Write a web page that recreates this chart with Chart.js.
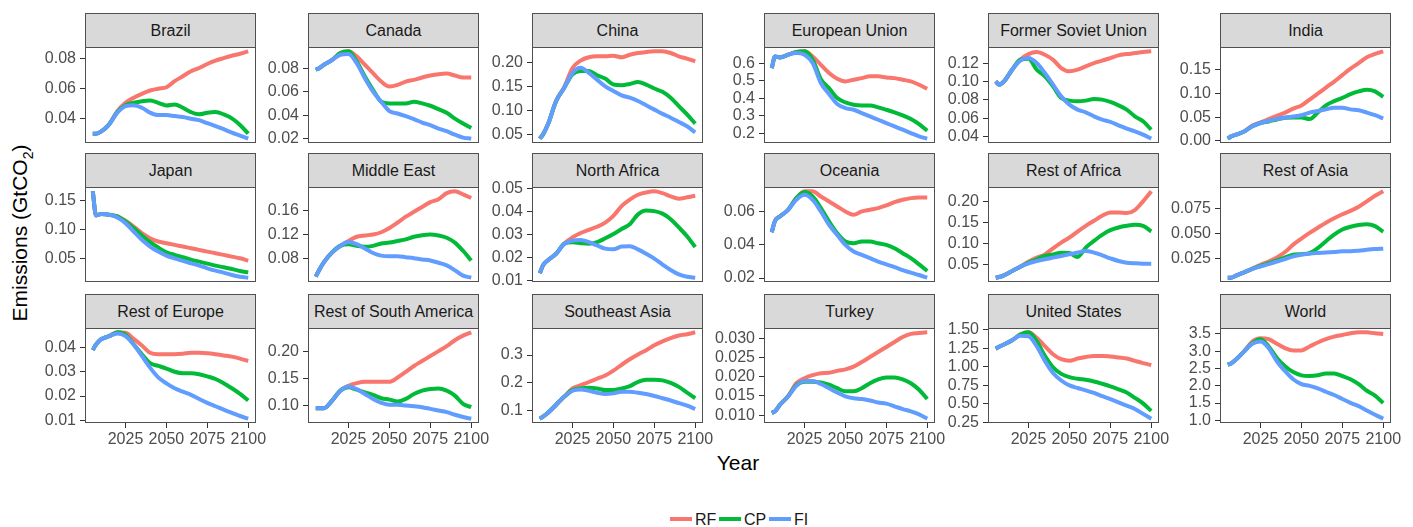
<!DOCTYPE html>
<html>
<head>
<meta charset="utf-8">
<script src="https://cdn.jsdelivr.net/npm/chart.js@4.4.1/dist/chart.umd.min.js"></script>
<style>
    body { margin: 0; width: 1413px; height: 527px; background: #fff; position: relative; overflow: hidden;
           font-family: 'Liberation Sans', Arial, sans-serif; }
    canvas { position: absolute; }
    .strip { position: absolute; box-sizing: border-box; background: #d9d9d9; border: 1px solid #505050;
             color: #1a1a1a; font-size: 16px; text-align: center; line-height: 33px; white-space: nowrap; overflow: hidden; }
    .title { position: absolute; font-size: 21px; color: #000; white-space: nowrap; }
    .key { position: absolute; height: 4px; width: 22px; }
    .keytext { position: absolute; font-size: 16px; line-height: 16px; color: #1a1a1a; }
</style>
</head>
<body>
<div class="title" style="left:22px; top:233px; transform: translate(-50%, -50%) rotate(-90deg);">Emissions (GtCO<sub style="font-size:14px">2</sub>)</div>
<div class="title" style="left:738px; top:463px; transform: translate(-50%, -50%);">Year</div>
<div id="legend"></div>
<script>
// facet names, in reading order
const regions = ['Brazil', 'Canada', 'China', 'European Union', 'Former Soviet Union', 'India',
                 'Japan', 'Middle East', 'North Africa', 'Oceania', 'Rest of Africa', 'Rest of Asia',
                 'Rest of Europe', 'Rest of South America', 'Southeast Asia', 'Turkey', 'United States', 'World'];

const years = [2005, 2007, 2010, 2015, 2020, 2025, 2030, 2035, 2040, 2045, 2050,
               2055, 2060, 2065, 2070, 2075, 2080, 2085, 2090, 2095, 2100];

const xTickLabels = ['2025', '2050', '2075', '2100'];

const yTickLabels = [
    ['0.04', '0.06', '0.08'],
    ['0.02', '0.04', '0.06', '0.08'],
    ['0.05', '0.10', '0.15', '0.20'],
    ['0.2', '0.3', '0.4', '0.5', '0.6'],
    ['0.04', '0.06', '0.08', '0.10', '0.12'],
    ['0.00', '0.05', '0.10', '0.15'],
    ['0.05', '0.10', '0.15'],
    ['0.08', '0.12', '0.16'],
    ['0.01', '0.02', '0.03', '0.04', '0.05'],
    ['0.02', '0.04', '0.06'],
    ['0.05', '0.10', '0.15', '0.20'],
    ['0.025', '0.050', '0.075'],
    ['0.01', '0.02', '0.03', '0.04'],
    ['0.10', '0.15', '0.20'],
    ['0.1', '0.2', '0.3'],
    ['0.010', '0.015', '0.020', '0.025', '0.030'],
    ['0.25', '0.50', '0.75', '1.00', '1.25', '1.50'],
    ['1.0', '1.5', '2.0', '2.5', '3.0', '3.5']
];

// RF scenario, one row per region
const rf = [
    [.030, .030, .0314, .0362, .045, .0506, .054, .0566, .0588, .060, .061, .065, .0683, .0716, .0738, .0765, .0787, .0804, .082, .0833, .0849],
    [.0786, .080, .0829, .087, .0929, .0943, .090, .0829, .0757, .0686, .0643, .0657, .0686, .070, .072, .0737, .0749, .0754, .0737, .072, .072],
    [.041, .05, .071, .12, .150, .1895, .205, .212, .214, .214, .2153, .212, .2174, .221, .223, .2244, .2244, .221, .214, .209, .2035],
    [.573, .64, .634, .65, .665, .669, .64, .592, .545, .512, .497, .507, .516, .526, .526, .52, .516, .507, .497, .478, .455],
    [.1005, .0969, .1005, .1134, .1244, .1306, .1328, .1299, .1244, .1152, .1116, .1134, .1171, .1207, .1233, .1262, .1292, .1306, .1317, .1328, .1336],
    [.0048, .0096, .013, .020, .0322, .039, .0459, .0527, .0596, .0678, .0747, .087, .0993, .1123, .1247, .1384, .152, .1637, .176, .1829, .1884],
    [.1661, .1247, .127, .1259, .123, .1155, .1057, .0943, .0856, .0799, .077, .0741, .0713, .0684, .0655, .0626, .0598, .0569, .054, .0511, .0471],
    [.0507, .0613, .0747, .0907, .1013, .1093, .1163, .1184, .12, .1237, .1307, .1397, .1493, .1573, .1653, .1733, .178, .188, .191, .186, .180],
    [.0133, .0168, .019, .0218, .0263, .0289, .0308, .0322, .0335, .0353, .0382, .0425, .0453, .0474, .0484, .0489, .0481, .0467, .0457, .0463, .047],
    [.0475, .0544, .057, .061, .068, .0721, .0721, .069, .066, .063, .060, .058, .060, .061, .062, .0636, .0656, .067, .068, .0684, .0684],
    [.020, .0215, .0254, .0357, .046, .0578, .0673, .075, .0894, .1028, .1147, .1289, .1423, .1542, .166, .1739, .1739, .1724, .1795, .200, .2237],
    [.0054, .0054, .0074, .0108, .0145, .0182, .0216, .0257, .0311, .0385, .0446, .0503, .0554, .0605, .0649, .0689, .0723, .0764, .0818, .0875, .0919],
    [.0389, .0412, .0433, .0446, .0462, .046, .0435, .0408, .0378, .0372, .0372, .0372, .0374, .0378, .0378, .0376, .0372, .0367, .0362, .0354, .0344],
    [.0958, .0958, .0958, .1097, .1279, .137, .1418, .1442, .1442, .1442, .1442, .1521, .1624, .1733, .1824, .1915, .2006, .2097, .2206, .2291, .2352],
    [.0721, .0791, .093, .1221, .1512, .1802, .1919, .2035, .2151, .2267, .2442, .2651, .2849, .3023, .3174, .3349, .3488, .3605, .3698, .3744, .3814],
    [.0106, .011, .0127, .0149, .0183, .0196, .0204, .0209, .021, .0215, .0219, .0226, .0238, .0251, .0264, .0277, .029, .0303, .0311, .0313, .0315],
    [1.244, 1.27, 1.301, 1.359, 1.434, 1.465, 1.39, 1.279, 1.169, 1.102, 1.08, 1.111, 1.133, 1.147, 1.147, 1.138, 1.125, 1.111, 1.08, 1.05, 1.023],
    [2.616, 2.645, 2.759, 2.996, 3.281, 3.376, 3.348, 3.215, 3.091, 3.025, 3.025, 3.139, 3.253, 3.348, 3.424, 3.471, 3.519, 3.548, 3.548, 3.519, 3.5]
];

// CP scenario
const cp = [
    [.030, .030, .0314, .0362, .0445, .049, .0506, .0517, .0522, .0506, .0488, .0495, .0473, .0444, .0429, .044, .0444, .0429, .0402, .0358, .030],
    [.0786, .080, .0829, .087, .0929, .0943, .0857, .0729, .0614, .0514, .050, .050, .050, .0514, .050, .048, .0451, .042, .0371, .0329, .0291],
    [.041, .05, .071, .12, .148, .176, .183, .183, .1742, .1672, .1547, .1533, .156, .160, .1547, .1463, .1393, .1268, .1093, .0919, .0724],
    [.573, .64, .634, .65, .665, .669, .621, .51, .459, .402, .377, .364, .36, .36, .349, .335, .32, .303, .282, .253, .215],
    [.1005, .0969, .1005, .1134, .1244, .1255, .1134, .106, .095, .0822, .0793, .0785, .0793, .0811, .0804, .0778, .0741, .0694, .062, .0565, .0473],
    [.0048, .0096, .013, .020, .0308, .0377, .041, .0452, .0486, .0493, .0493, .0459, .0596, .0747, .0836, .0904, .0986, .1041, .1075, .1041, .0925],
    [.1661, .1247, .127, .1259, .123, .1144, .1029, .0902, .0787, .0695, .0615, .0569, .0529, .0489, .0454, .042, .0385, .0356, .0328, .0293, .027],
    [.0507, .0613, .0747, .0907, .1013, .104, .1013, .0997, .1013, .1051, .1067, .1093, .112, .1163, .1189, .12, .1184, .1147, .1067, .0933, .0773],
    [.0133, .0168, .019, .0218, .0261, .0268, .0264, .0261, .0268, .0285, .0304, .0325, .0346, .0389, .0406, .0403, .0392, .0368, .0332, .0294, .0247],
    [.0475, .0544, .057, .061, .068, .0717, .069, .062, .054, .0469, .0419, .0409, .0419, .0419, .0409, .0399, .0379, .0349, .0319, .0282, .0242],
    [.020, .0215, .0254, .0357, .046, .0554, .0634, .0713, .075, .079, .078, .069, .091, .1068, .121, .132, .1384, .1423, .1447, .1423, .1289],
    [.0054, .0054, .0074, .0108, .0142, .0172, .0199, .0226, .0257, .0284, .029, .0301, .0351, .0419, .0486, .0537, .0564, .0581, .0588, .0571, .0514],
    [.0389, .0412, .0433, .0446, .0462, .0453, .0412, .0372, .0335, .0324, .0313, .030, .0294, .0294, .029, .0281, .027, .0253, .0232, .0209, .0182],
    [.0958, .0958, .0958, .1097, .1279, .134, .1297, .1248, .12, .1139, .1115, .1079, .1127, .1218, .1279, .1309, .1321, .1279, .1188, .1036, .0976],
    [.0721, .0791, .093, .1221, .1512, .1744, .1802, .1826, .1802, .1744, .1744, .1802, .1884, .2035, .2116, .2116, .2093, .200, .186, .1651, .1453],
    [.0106, .011, .0127, .0149, .0178, .0187, .0187, .0185, .0179, .017, .0162, .0162, .017, .0183, .0193, .0198, .0198, .0193, .0183, .0166, .0142],
    [1.244, 1.27, 1.301, 1.359, 1.434, 1.465, 1.345, 1.147, .992, .904, .86, .838, .824, .802, .771, .736, .696, .652, .581, .506, .405],
    [2.616, 2.645, 2.759, 2.996, 3.234, 3.348, 3.139, 2.806, 2.568, 2.397, 2.302, 2.283, 2.302, 2.359, 2.359, 2.283, 2.188, 2.046, 1.856, 1.713, 1.504]
];

// FI scenario
const fi = [
    [.030, .030, .0314, .0362, .044, .0484, .049, .0473, .044, .0424, .0424, .0418, .0411, .040, .039, .037, .0351, .033, .0307, .0287, .0267],
    [.0786, .080, .0829, .087, .0914, .092, .0843, .0714, .060, .0514, .0434, .0414, .0391, .0366, .0337, .0314, .0286, .0263, .0234, .0209, .020],
    [.041, .05, .071, .12, .148, .179, .19, .179, .165, .151, .141, .132, .127, .12, .111, .102, .093, .085, .076, .067, .054],
    [.573, .64, .634, .65, .659, .65, .602, .488, .425, .368, .345, .335, .316, .297, .278, .259, .24, .221, .202, .183, .170],
    [.1005, .0969, .1005, .1134, .1233, .1262, .1207, .1097, .0969, .084, .0749, .0694, .0664, .062, .0583, .0558, .0521, .0484, .0455, .0418, .0374],
    [.0048, .0096, .013, .020, .0308, .0377, .0425, .0459, .0493, .0514, .0541, .0596, .063, .0664, .0699, .0699, .0664, .0644, .0596, .0541, .0473],
    [.1661, .1247, .127, .1259, .1213, .1115, .0971, .0828, .0713, .0626, .0557, .0511, .0466, .0425, .0385, .0339, .0299, .0264, .0224, .0195, .0178],
    [.0507, .0613, .0747, .0907, .1013, .1077, .104, .0971, .0896, .0853, .0843, .0843, .0827, .0811, .0789, .0773, .0736, .0693, .0613, .0523, .049],
    [.0133, .0168, .019, .0218, .0261, .0275, .0278, .0268, .0254, .024, .0237, .0249, .0251, .0237, .0218, .0197, .0171, .0147, .0128, .0118, .0114],
    [.0475, .0544, .057, .061, .067, .070, .067, .060, .052, .0459, .0399, .0359, .0339, .0319, .0299, .0282, .0266, .0248, .0232, .0218, .0202],
    [.020, .0215, .0254, .0357, .046, .0539, .0594, .0634, .0673, .0713, .0752, .0792, .0831, .0792, .0728, .0657, .0594, .0554, .0539, .0531, .0531],
    [.0054, .0054, .0074, .0108, .0142, .0166, .0189, .0216, .024, .0267, .0284, .0294, .0301, .0307, .0311, .0318, .0318, .0324, .0334, .0341, .0345],
    [.0389, .0412, .0433, .0446, .0457, .0446, .0412, .0365, .0317, .0277, .0252, .0232, .0218, .0205, .0188, .0172, .0158, .0144, .0131, .0118, .0107],
    [.0958, .0958, .0958, .1097, .1279, .1358, .1309, .1218, .1127, .1055, .1018, .1018, .1006, .0994, .0976, .0945, .0915, .0885, .0836, .0794, .0764],
    [.0721, .0791, .093, .1221, .1512, .1721, .1767, .1721, .1651, .1605, .1628, .1686, .1686, .1651, .1605, .1535, .1453, .1372, .1279, .1186, .107],
    [.0106, .011, .0127, .0149, .0176, .0189, .0189, .0181, .017, .0159, .0149, .0144, .0142, .0138, .0133, .013, .0123, .0116, .011, .0102, .0091],
    [1.244, 1.27, 1.301, 1.359, 1.42, 1.412, 1.279, 1.08, .917, .815, .749, .714, .683, .647, .603, .564, .519, .475, .431, .365, .30],
    [2.616, 2.645, 2.759, 2.996, 3.215, 3.281, 3.091, 2.711, 2.426, 2.188, 2.046, 1.998, 1.922, 1.827, 1.732, 1.618, 1.504, 1.409, 1.285, 1.162, 1.047]
];

const seriesNames = ['RF', 'CP', 'FI'];
const seriesColors = ['#F8766D', '#00BA38', '#619CFF'];

// page layout of the facet grid
const colLeft = [85, 308, 532, 764, 988, 1220];
const stripTop = [13, 153, 294];
const plotH = [96, 95, 95];
const panelW = 171, stripH = 35;
// padTop must exceed half a label height plus tick padding, or Chart.js pushes the plot down
const yAxisW = 62, padTop = 16, padRight = 14, xAxisH = 32;

Chart.defaults.font.family = "'Liberation Sans', Arial, sans-serif";
Chart.defaults.font.size = 16;

// ggplot style border drawn over the lines
const panelBorder = {
    id: 'panelBorder',
    afterDatasetsDraw(chart) {
        const { ctx, chartArea: a } = chart;
        ctx.save();
        ctx.strokeStyle = '#505050';
        ctx.lineWidth = 1;
        ctx.strokeRect(a.left + 0.5, a.top + 0.5, a.width - 1, a.height - 1);
        ctx.restore();
    }
};

regions.forEach((name, i) => {
    const row = Math.floor(i / 6);
    const col = i % 6;
    const bottomRow = row === 2;
    const plotTop = stripTop[row] + stripH - 1;

    const strip = document.createElement('div');
    strip.className = 'strip';
    strip.textContent = name;
    strip.style.left = colLeft[col] + 'px';
    strip.style.top = stripTop[row] + 'px';
    strip.style.width = panelW + 'px';
    strip.style.height = stripH + 'px';
    document.body.appendChild(strip);

    const canvas = document.createElement('canvas');
    canvas.width = yAxisW + panelW + padRight;
    canvas.height = padTop + plotH[row] + (bottomRow ? xAxisH : padTop);
    canvas.style.left = (colLeft[col] - yAxisW) + 'px';
    canvas.style.top = (plotTop - padTop) + 'px';
    document.body.appendChild(canvas);

    const all = rf[i].concat(cp[i], fi[i]);
    const lo = Math.min(...all);
    const hi = Math.max(...all);
    const yPad = (hi - lo) * 0.05;
    const xPad = (years[years.length - 1] - years[0]) * 0.05;

    new Chart(canvas, {
        type: 'line',
        data: {
            datasets: [rf[i], cp[i], fi[i]].map((vals, k) => ({
                label: seriesNames[k],
                data: vals.map((v, j) => ({ x: years[j], y: v })),
                borderColor: seriesColors[k],
                backgroundColor: seriesColors[k],
                borderWidth: 4,
                pointRadius: 0,
                cubicInterpolationMode: 'monotone',
                order: 2 - k
            }))
        },
        options: {
            responsive: false,
            animation: false,
            devicePixelRatio: 1,
            layout: { padding: { left: 0, right: padRight, top: padTop, bottom: bottomRow ? 0 : padTop } },
            plugins: { legend: { display: false }, tooltip: { enabled: false } },
            scales: {
                x: {
                    type: 'linear',
                    display: bottomRow,
                    min: years[0] - xPad,
                    max: years[years.length - 1] + xPad,
                    afterBuildTicks: (s) => { s.ticks = xTickLabels.map(t => ({ value: Number(t) })); },
                    afterFit: (s) => { if (bottomRow) s.height = xAxisH; },
                    grid: { drawOnChartArea: false, tickLength: 5, color: '#333' },
                    border: { display: false },
                    ticks: {
                        autoSkip: false, maxRotation: 0, padding: 2, color: '#4d4d4d',
                        callback: (v, j) => xTickLabels[j]
                    }
                },
                y: {
                    type: 'linear',
                    min: lo - yPad,
                    max: hi + yPad,
                    afterBuildTicks: (s) => { s.ticks = yTickLabels[i].map(t => ({ value: Number(t) })); },
                    afterFit: (s) => { s.width = yAxisW; },
                    grid: { drawOnChartArea: false, tickLength: 5, color: '#333' },
                    border: { display: false },
                    ticks: {
                        autoSkip: false, padding: 4, color: '#4d4d4d',
                        callback: (v, j) => yTickLabels[i][j]
                    }
                }
            }
        },
        plugins: [panelBorder]
    });
});

// bottom legend
const legend = document.getElementById('legend');
const keyLeft = [670, 719, 769];
seriesNames.forEach((s, k) => {
    const key = document.createElement('div');
    key.className = 'key';
    key.style.left = keyLeft[k] + 'px';
    key.style.top = '517px';
    key.style.background = seriesColors[k];
    legend.appendChild(key);

    const txt = document.createElement('div');
    txt.className = 'keytext';
    txt.textContent = s;
    txt.style.left = (keyLeft[k] + 25) + 'px';
    txt.style.top = '512px';
    legend.appendChild(txt);
});
</script>
</body>
</html>
